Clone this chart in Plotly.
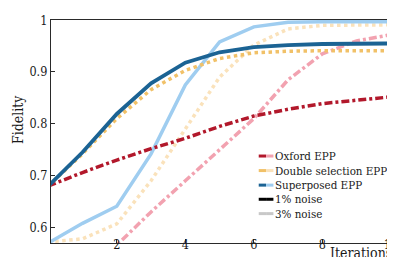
import plotly.graph_objects as go

iterations = [0, 1, 2, 3, 4, 5, 6, 7, 8, 9, 10]

oxford_1 = [0.68, 0.706, 0.73, 0.752, 0.772, 0.795, 0.815, 0.828, 0.839, 0.846, 0.852]
double_1 = [0.68, 0.742, 0.81, 0.866, 0.903, 0.926, 0.937, 0.940, 0.941, 0.941, 0.941]
superposed_1 = [0.68, 0.745, 0.819, 0.878, 0.918, 0.938, 0.948, 0.952, 0.954, 0.955, 0.955]

oxford_3 = [0.44, 0.50, 0.566, 0.63, 0.69, 0.75, 0.81, 0.885, 0.935, 0.96, 0.972]
double_3 = [0.572, 0.578, 0.607, 0.69, 0.79, 0.89, 0.952, 0.983, 0.990, 0.991, 0.991]
superposed_3 = [0.57, 0.608, 0.641, 0.742, 0.875, 0.958, 0.987, 0.996, 0.997, 0.997, 0.997]

y_ticks = [0.6, 0.7, 0.8, 0.9, 1.0]
y_tick_labels = ["0.6", "0.7", "0.8", "0.9", "1"]
x_ticks = [2, 4, 6, 8, 10]
x_tick_labels = ["2", "4", "6", "8", "10"]

legend_labels = ["Oxford EPP", "Double selection EPP", "Superposed EPP", "1% noise", "3% noise"]
x_title = "Iterations"
y_title = "Fidelity"

RED_D, RED_L = "#b2182b", "#f2a2b0"
ORA_D, ORA_L = "#f1c168", "#fae2bb"
BLU_D, BLU_L = "#1b6394", "#9fcdf0"
DASHDOT = "8px,3px,3px,3px"
FONT = "DejaVu Serif Condensed, DejaVu Serif"

fig = go.Figure()

series = [
    (oxford_3, RED_L, DASHDOT, 3.5),
    (double_3, ORA_L, "dot", 3.5),
    (superposed_3, BLU_L, "solid", 3.5),
    (oxford_1, RED_D, DASHDOT, 3.5),
    (double_1, ORA_D, "dot", 3.5),
    (superposed_1, BLU_D, "solid", 3.8),
]
for ys, col, dash, w in series:
    fig.add_trace(go.Scatter(x=iterations, y=ys, mode="lines",
                             line=dict(color=col, dash=dash, width=w),
                             showlegend=False, hoverinfo="skip"))

# plot-area pixel geometry
L, R, T, B = 43, 390, 5, 235
def px(x):
    return (x - L) / (R - L)
def py(y):
    return (B - y) / (B - T)

legend_colors = [(RED_D, RED_L), (ORA_D, ORA_L), (BLU_D, BLU_L), ("#000000", "#000000"), ("#c8c8c8", "#c8c8c8")]
legend_y = [145.3, 160.3, 175.3, 189.9, 204.7]
shapes = []
annotations = []
for lab, (c1, c2), yy in zip(legend_labels, legend_colors, legend_y):
    shapes.append(dict(type="line", xref="paper", yref="paper", x0=px(255), x1=px(262.5),
                       y0=py(yy), y1=py(yy), line=dict(color=c1, width=3)))
    shapes.append(dict(type="line", xref="paper", yref="paper", x0=px(262.5), x1=px(270),
                       y0=py(yy), y1=py(yy), line=dict(color=c2, width=3)))
    annotations.append(dict(text=lab, xref="paper", yref="paper", x=px(270), y=py(yy),
                            xanchor="left", yanchor="middle", showarrow=False,
                            font=dict(family=FONT, size=11.5, color="#1a1a1a")))

annotations.append(dict(text=x_title, xref="paper", yref="paper", x=px(359), y=py(245),
                        xanchor="center", yanchor="middle", showarrow=False,
                        font=dict(family=FONT, size=14, color="#1a1a1a")))
annotations.append(dict(text=y_title, xref="paper", yref="paper", x=px(9.5), y=py(108),
                        xanchor="center", yanchor="middle", textangle=-90, showarrow=False,
                        font=dict(family=FONT, size=14, color="#1a1a1a")))

axis_common = dict(showgrid=False, zeroline=False, showline=True, linecolor="#2a2a2a",
                   linewidth=1.3, mirror=True, ticks="inside", ticklen=4, tickwidth=1.2,
                   tickcolor="#2a2a2a", ticklabeloverflow="allow",
                   tickfont=dict(family=FONT, size=12.5, color="#1a1a1a"))

fig.update_layout(
    width=395, height=257, autosize=False,
    margin=dict(l=L, r=395 - R, t=T, b=257 - B),
    paper_bgcolor="white", plot_bgcolor="white",
    font=dict(family=FONT),
    xaxis=dict(range=[0.08, 10.003], tickvals=x_ticks, ticktext=x_tick_labels,
               ticklabelstandoff=-10, **axis_common),
    yaxis=dict(range=[0.57, 1.0003], tickvals=y_ticks, ticktext=y_tick_labels, **axis_common),
    shapes=shapes, annotations=annotations,
)

fig.write_html("out.html")
